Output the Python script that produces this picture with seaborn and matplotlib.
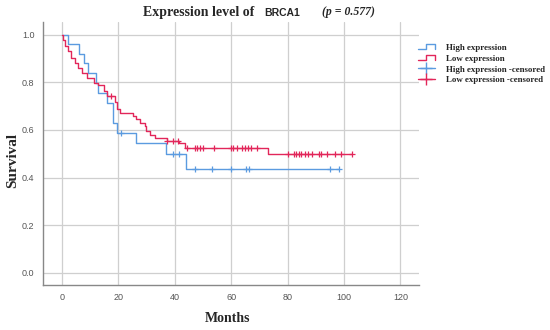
import numpy as np
import pandas as pd
import matplotlib
matplotlib.use('Agg')
import matplotlib.pyplot as plt
import seaborn as sns
from matplotlib.lines import Line2D
from matplotlib.legend_handler import HandlerBase

# Kaplan-Meier steps
high_t = [0, 2.1, 6.2, 8.0, 9.3, 12.1, 12.9, 15.9, 18.3, 19.6, 26.2, 37.0, 44.0, 98.2]
high_s = [1.0, 0.961, 0.919, 0.880, 0.838, 0.796, 0.754, 0.714, 0.628, 0.586, 0.543, 0.497, 0.434, 0.434]
high_cens = [20.9, 39.5, 41.5, 47.2, 53.1, 60.0, 65.3, 66.2, 95.0, 98.2]

low_t = [0, 0.3, 1.0, 2.2, 3.4, 4.6, 5.8, 7.0, 8.8, 11.5, 13.0, 15.0, 16.0, 18.8, 19.6,
         20.5, 25.3, 26.4, 27.7, 29.4, 30.0, 31.2, 33.0, 37.2, 41.6, 43.6, 73.1, 103.0]
low_s = [1.0, 0.979, 0.951, 0.930, 0.902, 0.881, 0.860, 0.839, 0.818, 0.797, 0.790, 0.765,
         0.742, 0.719, 0.687, 0.672, 0.658, 0.645, 0.630, 0.615, 0.594, 0.580, 0.568, 0.555,
         0.544, 0.522, 0.497, 0.497]
low_cens = [17.3, 37.4, 39.5, 41.0, 44.3, 47.1, 48.0, 48.8, 50.0, 54.0, 59.9, 60.8, 62.1,
            64.0, 65.0, 66.0, 67.0, 69.2, 80.0, 82.1, 83.0, 84.0, 84.9, 86.0, 87.3, 88.5,
            91.0, 91.8, 94.0, 96.9, 98.9, 103.0]

labels = ['High expression', 'Low expression',
          'High expression -censored', 'Low expression -censored']
blue = '#5b9be0'
red = '#e2265a'


def censor_y(times, t, s):
    idx = np.searchsorted(times, t, side='right') - 1
    return np.array(s)[idx]


sns.set_style('white')
plt.rcParams['font.family'] = ['Liberation Sans', 'DejaVu Sans']

fig = plt.figure(figsize=(5.5, 3.3), dpi=100)
ax = fig.add_axes([0.078, 0.136, 0.684, 0.797])

ax.set_axisbelow(True)
ax.grid(True, color='#cfcfcf', linewidth=0.9)

sns.lineplot(x=high_t, y=high_s, drawstyle='steps-post', estimator=None,
             color=blue, linewidth=1.0, ax=ax)
sns.lineplot(x=low_t, y=low_s, drawstyle='steps-post', estimator=None,
             color=red, linewidth=1.0, ax=ax)
sns.scatterplot(x=high_cens, y=censor_y(high_t, high_cens, high_s), marker='+',
                color=blue, s=24, linewidth=0.9, ax=ax, zorder=3)
sns.scatterplot(x=low_cens, y=censor_y(low_t, low_cens, low_s), marker='+',
                color=red, s=24, linewidth=0.9, ax=ax, zorder=3)

ax.set_xlim(-6.7, 126.6)
ax.set_ylim(-0.052, 1.053)
ax.set_xticks(range(0, 121, 20))
ax.set_yticks(np.arange(0, 1.01, 0.2))
ax.set_yticklabels(['%.1f' % v for v in np.arange(0, 1.01, 0.2)])
ax.tick_params(labelsize=6.5, labelcolor='#555555', length=0, pad=6)
for side in ['top', 'right']:
    ax.spines[side].set_visible(False)
for side in ['left', 'bottom']:
    ax.spines[side].set_color('#888888')
    ax.spines[side].set_linewidth(1.0)
ax.set_xlabel('')
ax.set_ylabel('')

serif = ['Liberation Serif', 'DejaVu Serif']
fig.text(228 / 550, 1 - 318 / 330, 'Months', family=serif, fontweight='bold',
         fontsize=10, ha='center', va='center')
fig.text(13 / 550, 1 - 160 / 330, 'Survival', family=serif, fontweight='bold',
         fontsize=11, ha='center', va='center', rotation=90)

ty = 1 - 12.5 / 330
fig.text(143 / 550, ty, 'Expression level of', family=serif, fontweight='bold',
         fontsize=10, ha='left', va='center')
fig.text(264 / 550, ty, 'BRCA1', family=['Liberation Sans', 'DejaVu Sans'],
         fontweight='bold', fontsize=7.5, ha='left', va='center')
fig.text(322 / 550, ty, '(p = 0.577)', family=serif, fontweight='bold',
         style='italic', fontsize=8.5, ha='left', va='center')


class HandlerStep(HandlerBase):
    def create_artists(self, legend, orig_handle, xdescent, ydescent,
                       width, height, fontsize, trans):
        x0, x1 = -xdescent, -xdescent + width
        yl, yh = -ydescent + height * 0.15, -ydescent + height * 0.85
        xs = [x0, x0 + width * 0.45, x0 + width * 0.45, x1, x1]
        ys = [yl, yl, yh, yh, yl]
        ln = Line2D(xs, ys, color=orig_handle.get_color(), linewidth=1.0)
        ln.set_transform(trans)
        return [ln]


handles = [Line2D([], [], color=blue), Line2D([], [], color=red),
           Line2D([], [], color=blue, marker='+', markersize=8, linewidth=1.0),
           Line2D([], [], color=red, marker='+', markersize=8, linewidth=1.0)]
fig.legend(handles, labels, loc='upper left', bbox_to_anchor=(414 / 550, 1 - 40 / 330),
           frameon=False, prop={'family': serif, 'weight': 'bold', 'size': 6.4},
           handlelength=2.0, handletextpad=1.2, labelspacing=0.3, borderaxespad=0,
           handler_map={handles[0]: HandlerStep(), handles[1]: HandlerStep()})

fig.savefig('out.png', dpi=100)
